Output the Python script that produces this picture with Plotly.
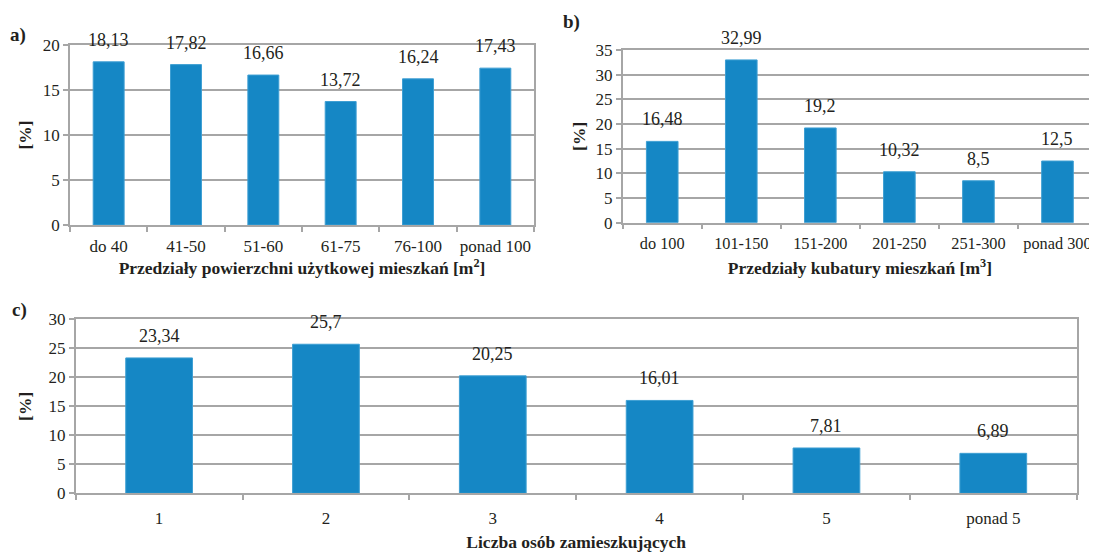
import plotly.graph_objects as go

# ---- data ----
cats_a = ["do 40", "41-50", "51-60", "61-75", "76-100", "ponad 100"]
vals_a = [18.13, 17.82, 16.66, 13.72, 16.24, 17.43]

cats_b = ["do 100", "101-150", "151-200", "201-250", "251-300", "ponad 300"]
vals_b = [16.48, 32.99, 19.2, 10.32, 8.5, 12.5]

cats_c = ["1", "2", "3", "4", "5", "ponad 5"]
vals_c = [23.34, 25.7, 20.25, 16.01, 7.81, 6.89]

title_a = "Przedziały powierzchni użytkowej mieszkań [m<sup>2</sup>]"
title_b = "Przedziały kubatury mieszkań [m<sup>3</sup>]"
title_c = "Liczba osób zamieszkujących"

OFF = 8  # page body margin
W, H = 1097 - OFF, 552 - OFF
FONT = "Liberation Serif, Times New Roman, Times, serif"
BAR = "#1587C5"
GRID = "#A6A6A6"
TXT = "#231F20"

def px_x(x):
    return min(1.0, (x - OFF) / W)

def px_y(y):
    return 1 - (y - OFF) / H

fig = go.Figure()
panels = [
    ("x", "y", cats_a, vals_a),
    ("x2", "y2", cats_b, vals_b),
    ("x3", "y3", cats_c, vals_c),
]
for xa, ya, cats, vals in panels:
    fig.add_trace(go.Bar(x=cats, y=vals, xaxis=xa, yaxis=ya,
                         marker=dict(color=BAR, line=dict(width=1, color="#3E9FD3")),
                         showlegend=False, hoverinfo="x+y"))
    for i, v in enumerate(vals):
        fig.add_annotation(x=i, y=v, xref=xa, yref=ya, text=f"{v:g}".replace(".", ","),
                           showarrow=False, yanchor="bottom", yshift=10,
                           font=dict(family=FONT, size=18, color=TXT))

def xaxis(domain, anchor, title, standoff, lstand, fsize=17):
    return dict(domain=domain, anchor=anchor, type="category", automargin=False,
                showline=True, linecolor=GRID, linewidth=1.5, mirror=True,
                ticks="outside", tickson="boundaries", ticklen=5, tickcolor=GRID, tickwidth=1.5,
                ticklabelstandoff=lstand, tickangle=0,
                tickfont=dict(family=FONT, size=fsize, color=TXT),
                title=dict(text=title, standoff=standoff,
                           font=dict(family=FONT, size=17.5, color=TXT, weight="bold")),
                showgrid=False, fixedrange=True)

def yaxis(domain, anchor, rng, dtick, standoff):
    return dict(domain=domain, anchor=anchor, range=rng, dtick=dtick, automargin=False,
                showline=True, linecolor=GRID, linewidth=1.5, mirror=True,
                ticks="outside", ticklen=5, tickcolor=GRID, tickwidth=1.5,
                showgrid=True, gridcolor=GRID, gridwidth=1.5,
                tickfont=dict(family=FONT, size=17, color=TXT),
                title=dict(text="[%]", standoff=standoff,
                           font=dict(family=FONT, size=17.5, color=TXT, weight="bold")),
                zeroline=False, fixedrange=True)

fig.update_layout(
    width=W, height=H,
    margin=dict(l=0, r=0, t=0, b=0),
    paper_bgcolor="white", plot_bgcolor="white",
    bargap=0.6,
    xaxis=xaxis([px_x(70), px_x(534)], "y", title_a, 7, 5),
    yaxis=yaxis([px_y(225), px_y(45)], "x", [0, 20], 5, 7),
    xaxis2=xaxis([px_x(622.7), px_x(1098.5)], "y2", title_b, 10, 5, 16.3),
    yaxis2=yaxis([px_y(222.7), px_y(50)], "x2", [0, 35], 5, 5),
    xaxis3=xaxis([px_x(75.7), px_x(1076.7)], "y3", title_c, 8, 9),
    yaxis3=yaxis([px_y(493.3), px_y(319.3)], "x3", [0, 30], 5, 12),
)

for lbl, x, y in [("a)", 18, 35), ("b)", 571, 22), ("c)", 19, 310)]:
    fig.add_annotation(text=lbl, x=px_x(x), y=px_y(y), xref="paper", yref="paper",
                       showarrow=False, xanchor="center", yanchor="middle",
                       font=dict(family=FONT, size=19, color=TXT, weight="bold"))

fig.write_html("out.html")
